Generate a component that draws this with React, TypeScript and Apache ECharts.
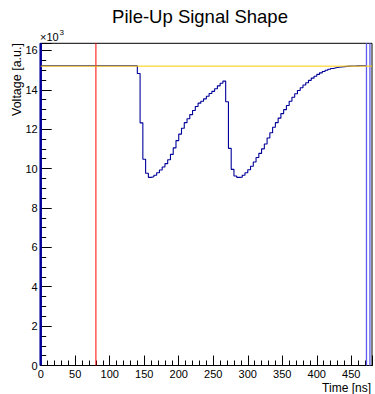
import React, { useEffect, useRef } from "react";
import * as echarts from "echarts";

// ---- data ----
const binWidth = 4; // ns
const timeMin = 0;
const timeMax = 480;
const voltageMax = 16360;
// bin contents, one per 4 ns bin starting at 0 ns
const voltage = [
  15220, 15220, 15220, 15220, 15220, 15220, 15220, 15220, 15220, 15220,
  15220, 15220, 15220, 15220, 15220, 15220, 15220, 15220, 15220, 15220,
  15220, 15220, 15220, 15220, 15220, 15220, 15220, 15220, 15220, 15220,
  15220, 15220, 15220, 15220, 15220,
  // 140 ns: first pulse
  14830, 12320, 10470, 9760, 9553, 9584, 9660, 9790, 9930, 10080,
  10250, 10450, 10720, 11050, 11420, 11750, 12050, 12330, 12530, 12740,
  12950, 13150, 13320, 13420, 13540, 13670, 13810, 13920, 14050, 14200,
  14330, 14440,
  // 268 ns: second pulse
  13390, 11025, 9960, 9620, 9553, 9560, 9660, 9790, 9940, 10120,
  10330, 10560, 10770, 11000, 11250, 11550, 11820, 12100, 12330, 12560,
  12790, 12990, 13200, 13420, 13620, 13800, 13960, 14100, 14240, 14360,
  14480, 14590, 14690, 14780, 14860, 14930, 14990, 15040, 15080, 15115,
  15140, 15160, 15175, 15190, 15200, 15205, 15210, 15215, 15220, 15220,
  15220,
];
const baselineLevel = 15200;
const triggerTime = 80;
const edgeTimes = [472, 477];
const xTickLabels = [0, 50, 100, 150, 200, 250, 300, 350, 400, 450];
const yTickLabels = [0, 2, 4, 6, 8, 10, 12, 14, 16];

const FONT = '"Liberation Sans", Arial, Helvetica, sans-serif';

function buildSteps(): number[][] {
  const pts: number[][] = [];
  voltage.forEach((v, i) => {
    const x0 = timeMin + i * binWidth;
    pts.push([x0, v]);
    pts.push([x0 + binWidth, v]);
  });
  return pts;
}

export default function App() {
  const ref = useRef<HTMLDivElement>(null);
  useEffect(() => {
    if (!ref.current) return;
    const chart = echarts.init(ref.current, undefined, { renderer: "svg" });
    const vline = (x: number) => [
      [x, 0],
      [x, voltageMax],
    ];
    const option: any = {
      animation: false,
      grid: {
        left: 40.7,
        right: 1.5,
        top: 43.3,
        bottom: 28.5,
        show: true,
        borderColor: "#000",
        borderWidth: 1,
        backgroundColor: "transparent",
      },
      xAxis: [
        {
          type: "value",
          min: timeMin,
          max: timeMax,
          interval: 50,
          position: "bottom",
          axisLine: { show: true, lineStyle: { color: "#000", width: 1 } },
          axisTick: { show: true, inside: true, length: 10, lineStyle: { color: "#000" } },
          axisLabel: {
            show: true,
            margin: 3,
            fontSize: 11,
            fontFamily: FONT,
            color: "#000",
            formatter: (v: number) => (xTickLabels.indexOf(v) >= 0 ? String(v) : ""),
          },
          splitLine: { show: false },
        },
        {
          type: "value",
          min: timeMin,
          max: timeMax,
          interval: 10,
          position: "bottom",
          axisLine: { show: false },
          axisTick: { show: true, inside: true, length: 5, lineStyle: { color: "#000" } },
          axisLabel: { show: false },
          splitLine: { show: false },
        },
      ],
      yAxis: [
        {
          type: "value",
          min: 0,
          max: voltageMax,
          interval: 2000,
          position: "left",
          axisLine: { show: true, lineStyle: { color: "#000", width: 1 } },
          axisTick: { show: true, inside: true, length: 11, lineStyle: { color: "#000" } },
          axisLabel: {
            show: true,
            margin: 3,
            fontSize: 11,
            fontFamily: FONT,
            color: "#000",
            formatter: (v: number) =>
              yTickLabels.indexOf(v / 1000) >= 0 ? String(v / 1000) : "",
          },
          splitLine: { show: false },
        },
        {
          type: "value",
          min: 0,
          max: voltageMax,
          interval: 500,
          position: "left",
          axisLine: { show: false },
          axisTick: { show: true, inside: true, length: 5.5, lineStyle: { color: "#000" } },
          axisLabel: { show: false },
          splitLine: { show: false },
        },
      ],
      series: [
        {
          type: "line",
          data: buildSteps(),
          symbol: "none",
          lineStyle: { color: "#000099", width: 1.1 },
          z: 2,
        },
        {
          type: "line",
          data: vline(timeMin),
          symbol: "none",
          lineStyle: { color: "#000099", width: 2.5 },
          z: 2,
        },
        {
          type: "line",
          data: vline(triggerTime),
          symbol: "none",
          lineStyle: { color: "#ff0000", width: 1 },
          z: 3,
        },
        ...edgeTimes.map((t) => ({
          type: "line",
          data: vline(t),
          symbol: "none",
          lineStyle: { color: "#5c5cf2", width: 1.3 },
          z: 2,
        })),
        {
          type: "line",
          data: [
            [timeMin, baselineLevel],
            [timeMax, baselineLevel],
          ],
          symbol: "none",
          lineStyle: { color: "#ffcc00", width: 1 },
          z: 4,
        },
      ],
      graphic: [
        {
          type: "text",
          x: 200,
          y: 7,
          style: {
            text: "Pile-Up Signal Shape",
            fontSize: 18.5,
            fontFamily: FONT,
            fill: "#000",
            align: "center",
            verticalAlign: "top",
          },
        },
        {
          type: "text",
          x: 17,
          y: 43,
          rotation: Math.PI / 2,
          style: {
            text: "Voltage [a.u.]",
            fontSize: 12.5,
            fontFamily: FONT,
            fill: "#000",
            align: "right",
            verticalAlign: "middle",
          },
        },
        {
          type: "text",
          x: 40,
          y: 42,
          style: {
            text: "×10",
            fontSize: 11,
            fontFamily: FONT,
            fill: "#000",
            align: "left",
            verticalAlign: "bottom",
          },
        },
        {
          type: "text",
          x: 59.5,
          y: 28.5,
          style: {
            text: "3",
            fontSize: 8,
            fontFamily: FONT,
            fill: "#000",
            align: "left",
            verticalAlign: "top",
          },
        },
        {
          type: "text",
          x: 371,
          y: 388,
          style: {
            text: "Time [ns]",
            fontSize: 12,
            fontFamily: FONT,
            fill: "#000",
            align: "right",
            verticalAlign: "middle",
          },
        },
      ],
    };
    chart.setOption(option);
    return () => chart.dispose();
  }, []);
  return (
    <div
      ref={ref}
      style={{ position: "absolute", left: 0, top: 0, width: 375, height: 394 }}
    />
  );
}
